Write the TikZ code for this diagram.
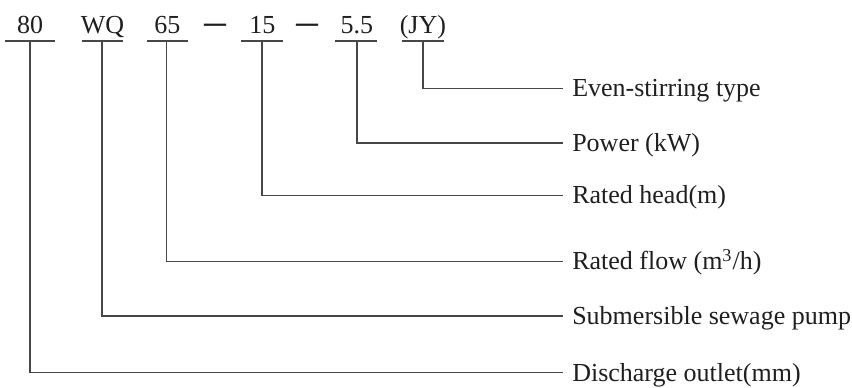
\documentclass[tikz,border=0pt]{standalone}
\usepackage{fontspec}
\setmainfont{Liberation Serif}

\begin{document}
\begin{tikzpicture}[
		wire/.style={draw=black!72, line width=0.7pt},
		code/.style={anchor=base, inner sep=0pt, text=black!88},
		sep/.style={inner sep=0pt, text=black!88, font=\fontsize{11}{12}\selectfont},
		desc/.style={anchor=west, inner xsep=4.5pt, inner ysep=0pt, text height=11pt, text depth=2.5pt, text=black!88},
		font=\fontsize{13}{15}\selectfont]
				\useasboundingbox (0, 0) rectangle (14.97, 6.80);
				% Model code and underlines:
				\node[code](n80) at (0.53, 6.21){80};
				\node[code](nWQ) at (1.80, 6.21){WQ};
				\node[code](n65) at (2.94, 6.21){65};
				\node[sep](s1) at (3.78, 6.28){\scalebox{1}[2]{---}};
				\node[code](n15) at (4.61, 6.21){15};
				\node[sep](s2) at (5.41, 6.28){\scalebox{1}[2]{---}};
				\node[code](n55) at (6.27, 6.21){5.5};
				\node[code](nJY) at (7.43, 6.21){(JY)};
				\draw[wire] (0.09, 6.08) -- (0.97, 6.08);
				\draw[wire] (1.44, 6.08) -- (2.16, 6.08);
				\draw[wire] (2.58, 6.08) -- (3.30, 6.08);
				\draw[wire] (4.23, 6.08) -- (4.97, 6.08);
				\draw[wire] (5.89, 6.08) -- (6.62, 6.08);
				\draw[wire] (7.06, 6.08) -- (7.80, 6.08);
				\coordinate (u80) at (0.53, 6.08);
				\coordinate (uWQ) at (1.79, 6.08);
				\coordinate (u65) at (2.93, 6.08);
				\coordinate (u15) at (4.60, 6.08);
				\coordinate (u55) at (6.27, 6.08);
				\coordinate (uJY) at (7.43, 6.08);
				% Meanings:
				\node[desc](dJY) at (9.89, 5.25){Even-stirring type};
				\node[desc](d55) at (9.89, 4.29){Power (kW)};
				\node[desc](d15) at (9.89, 3.37){Rated head(m)};
				\node[desc](d65) at (9.89, 2.21){Rated flow (m\textsuperscript{3}/h)};
				\node[desc](dWQ) at (9.89, 1.25){Submersible sewage pump};
				\node[desc](d80) at (9.89, 0.25){Discharge outlet(mm)};
				% Leaders:
				\draw[wire] (uJY) |- (dJY.west);
				\draw[wire] (u55) |- (d55.west);
				\draw[wire] (u15) |- (d15.west);
				\draw[wire] (u65) |- (d65.west);
				\draw[wire] (uWQ) |- (dWQ.west);
				\draw[wire] (u80) |- (d80.west);
			\end{tikzpicture}
\end{document}
